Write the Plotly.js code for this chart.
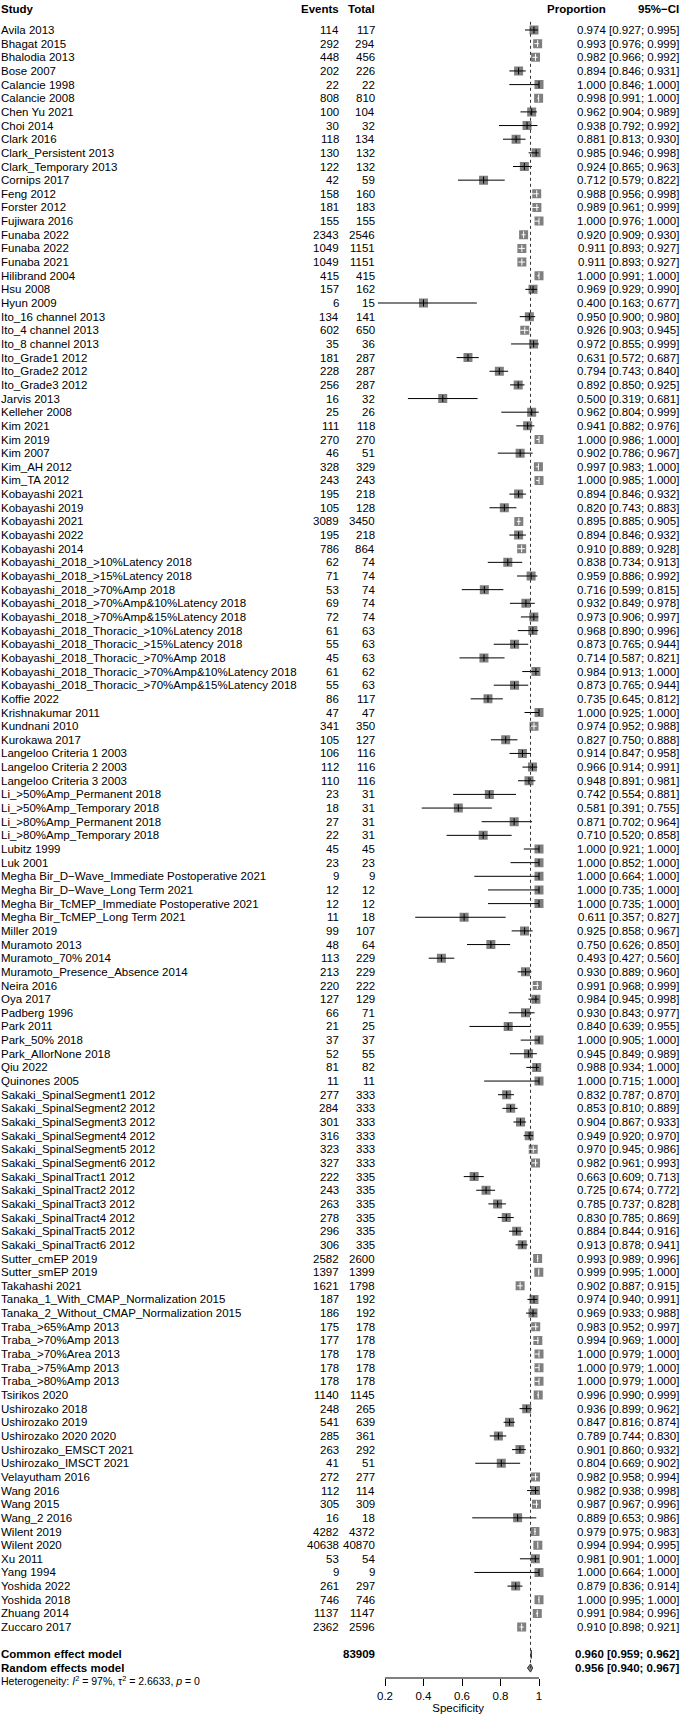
<!DOCTYPE html>
<html>
<head>
<meta charset="utf-8">
<script src="https://cdn.plot.ly/plotly-3.0.1.min.js"></script>
<style>
body { margin: 0; background: #fff; }
#forest { width: 681px; height: 1721px; }
</style>
</head>
<body>
<div id="forest"></div>
<script>
// ---------- Data ----------
var studies = [
    'Avila 2013', 'Bhagat 2015', 'Bhalodia 2013', 'Bose 2007', 'Calancie 1998', 'Calancie 2008',
    'Chen Yu 2021', 'Choi 2014', 'Clark 2016', 'Clark_Persistent 2013', 'Clark_Temporary 2013',
    'Cornips 2017', 'Feng 2012', 'Forster 2012', 'Fujiwara 2016', 'Funaba 2022', 'Funaba 2022',
    'Funaba 2021', 'Hilibrand 2004', 'Hsu 2008', 'Hyun 2009', 'Ito_16 channel 2013',
    'Ito_4 channel 2013', 'Ito_8 channel 2013', 'Ito_Grade1 2012', 'Ito_Grade2 2012',
    'Ito_Grade3 2012', 'Jarvis 2013', 'Kelleher 2008', 'Kim 2021', 'Kim 2019', 'Kim 2007',
    'Kim_AH 2012', 'Kim_TA 2012', 'Kobayashi 2021', 'Kobayashi 2019', 'Kobayashi 2021',
    'Kobayashi 2022', 'Kobayashi 2014', 'Kobayashi_2018_>10%Latency 2018',
    'Kobayashi_2018_>15%Latency 2018', 'Kobayashi_2018_>70%Amp 2018',
    'Kobayashi_2018_>70%Amp&10%Latency 2018', 'Kobayashi_2018_>70%Amp&15%Latency 2018',
    'Kobayashi_2018_Thoracic_>10%Latency 2018', 'Kobayashi_2018_Thoracic_>15%Latency 2018',
    'Kobayashi_2018_Thoracic_>70%Amp 2018', 'Kobayashi_2018_Thoracic_>70%Amp&10%Latency 2018',
    'Kobayashi_2018_Thoracic_>70%Amp&15%Latency 2018', 'Koffie 2022', 'Krishnakumar 2011',
    'Kundnani 2010', 'Kurokawa 2017', 'Langeloo Criteria 1 2003', 'Langeloo Criteria 2 2003',
    'Langeloo Criteria 3 2003', 'Li_>50%Amp_Permanent 2018', 'Li_>50%Amp_Temporary 2018',
    'Li_>80%Amp_Permanent 2018', 'Li_>80%Amp_Temporary 2018', 'Lubitz 1999', 'Luk 2001',
    'Megha Bir_D\u2212Wave_Immediate Postoperative 2021', 'Megha Bir_D\u2212Wave_Long Term 2021',
    'Megha Bir_TcMEP_Immediate Postoperative 2021', 'Megha Bir_TcMEP_Long Term 2021',
    'Miller 2019', 'Muramoto 2013', 'Muramoto_70% 2014', 'Muramoto_Presence_Absence 2014',
    'Neira 2016', 'Oya 2017', 'Padberg 1996', 'Park 2011', 'Park_50% 2018', 'Park_AllorNone 2018',
    'Qiu 2022', 'Quinones 2005', 'Sakaki_SpinalSegment1 2012', 'Sakaki_SpinalSegment2 2012',
    'Sakaki_SpinalSegment3 2012', 'Sakaki_SpinalSegment4 2012', 'Sakaki_SpinalSegment5 2012',
    'Sakaki_SpinalSegment6 2012', 'Sakaki_SpinalTract1 2012', 'Sakaki_SpinalTract2 2012',
    'Sakaki_SpinalTract3 2012', 'Sakaki_SpinalTract4 2012', 'Sakaki_SpinalTract5 2012',
    'Sakaki_SpinalTract6 2012', 'Sutter_cmEP 2019', 'Sutter_smEP 2019', 'Takahashi 2021',
    'Tanaka_1_With_CMAP_Normalization 2015', 'Tanaka_2_Without_CMAP_Normalization 2015',
    'Traba_>65%Amp 2013', 'Traba_>70%Amp 2013', 'Traba_>70%Area 2013', 'Traba_>75%Amp 2013',
    'Traba_>80%Amp 2013', 'Tsirikos 2020', 'Ushirozako 2018', 'Ushirozako 2019',
    'Ushirozako 2020 2020', 'Ushirozako_EMSCT 2021', 'Ushirozako_IMSCT 2021', 'Velayutham 2016',
    'Wang 2016', 'Wang 2015', 'Wang_2 2016', 'Wilent 2019', 'Wilent 2020', 'Xu 2011', 'Yang 1994',
    'Yoshida 2022', 'Yoshida 2018', 'Zhuang 2014', 'Zuccaro 2017'
];
var events = [
    114, 292, 448, 202, 22, 808, 100, 30, 118, 130, 122, 42, 158, 181, 155, 2343, 1049, 1049, 415, 157,
    6, 134, 602, 35, 181, 228, 256, 16, 25, 111, 270, 46, 328, 243, 195, 105, 3089, 195, 786, 62,
    71, 53, 69, 72, 61, 55, 45, 61, 55, 86, 47, 341, 105, 106, 112, 110, 23, 18, 27, 22,
    45, 23, 9, 12, 12, 11, 99, 48, 113, 213, 220, 127, 66, 21, 37, 52, 81, 11, 277, 284,
    301, 316, 323, 327, 222, 243, 263, 278, 296, 306, 2582, 1397, 1621, 187, 186, 175, 177, 178, 178, 178,
    1140, 248, 541, 285, 263, 41, 272, 112, 305, 16, 4282, 40638, 53, 9, 261, 746, 1137, 2362
];
var totals = [
    117, 294, 456, 226, 22, 810, 104, 32, 134, 132, 132, 59, 160, 183, 155, 2546, 1151, 1151, 415, 162,
    15, 141, 650, 36, 287, 287, 287, 32, 26, 118, 270, 51, 329, 243, 218, 128, 3450, 218, 864, 74,
    74, 74, 74, 74, 63, 63, 63, 62, 63, 117, 47, 350, 127, 116, 116, 116, 31, 31, 31, 31,
    45, 23, 9, 12, 12, 18, 107, 64, 229, 229, 222, 129, 71, 25, 37, 55, 82, 11, 333, 333,
    333, 333, 333, 333, 335, 335, 335, 335, 335, 335, 2600, 1399, 1798, 192, 192, 178, 178, 178, 178, 178,
    1145, 265, 639, 361, 292, 51, 277, 114, 309, 18, 4372, 40870, 54, 9, 297, 746, 1147, 2596
];
var proportions = [
    0.974, 0.993, 0.982, 0.894, 1.000, 0.998, 0.962, 0.938, 0.881, 0.985, 0.924, 0.712, 0.988, 0.989, 1.000, 0.920, 0.911, 0.911, 1.000, 0.969,
    0.400, 0.950, 0.926, 0.972, 0.631, 0.794, 0.892, 0.500, 0.962, 0.941, 1.000, 0.902, 0.997, 1.000, 0.894, 0.820, 0.895, 0.894, 0.910, 0.838,
    0.959, 0.716, 0.932, 0.973, 0.968, 0.873, 0.714, 0.984, 0.873, 0.735, 1.000, 0.974, 0.827, 0.914, 0.966, 0.948, 0.742, 0.581, 0.871, 0.710,
    1.000, 1.000, 1.000, 1.000, 1.000, 0.611, 0.925, 0.750, 0.493, 0.930, 0.991, 0.984, 0.930, 0.840, 1.000, 0.945, 0.988, 1.000, 0.832, 0.853,
    0.904, 0.949, 0.970, 0.982, 0.663, 0.725, 0.785, 0.830, 0.884, 0.913, 0.993, 0.999, 0.902, 0.974, 0.969, 0.983, 0.994, 1.000, 1.000, 1.000,
    0.996, 0.936, 0.847, 0.789, 0.901, 0.804, 0.982, 0.982, 0.987, 0.889, 0.979, 0.994, 0.981, 1.000, 0.879, 1.000, 0.991, 0.910
];
var ciLower = [
    0.927, 0.976, 0.966, 0.846, 0.846, 0.991, 0.904, 0.792, 0.813, 0.946, 0.865, 0.579, 0.956, 0.961, 0.976, 0.909, 0.893, 0.893, 0.991, 0.929,
    0.163, 0.900, 0.903, 0.855, 0.572, 0.743, 0.850, 0.319, 0.804, 0.882, 0.986, 0.786, 0.983, 0.985, 0.846, 0.743, 0.885, 0.846, 0.889, 0.734,
    0.886, 0.599, 0.849, 0.906, 0.890, 0.765, 0.587, 0.913, 0.765, 0.645, 0.925, 0.952, 0.750, 0.847, 0.914, 0.891, 0.554, 0.391, 0.702, 0.520,
    0.921, 0.852, 0.664, 0.735, 0.735, 0.357, 0.858, 0.626, 0.427, 0.889, 0.968, 0.945, 0.843, 0.639, 0.905, 0.849, 0.934, 0.715, 0.787, 0.810,
    0.867, 0.920, 0.945, 0.961, 0.609, 0.674, 0.737, 0.785, 0.844, 0.878, 0.989, 0.995, 0.887, 0.940, 0.933, 0.952, 0.969, 0.979, 0.979, 0.979,
    0.990, 0.899, 0.816, 0.744, 0.860, 0.669, 0.958, 0.938, 0.967, 0.653, 0.975, 0.994, 0.901, 0.664, 0.836, 0.995, 0.984, 0.898
];
var ciUpper = [
    0.995, 0.999, 0.992, 0.931, 1.000, 1.000, 0.989, 0.992, 0.930, 0.998, 0.963, 0.822, 0.998, 0.999, 1.000, 0.930, 0.927, 0.927, 1.000, 0.990,
    0.677, 0.980, 0.945, 0.999, 0.687, 0.840, 0.925, 0.681, 0.999, 0.976, 1.000, 0.967, 1.000, 1.000, 0.932, 0.883, 0.905, 0.932, 0.928, 0.913,
    0.992, 0.815, 0.978, 0.997, 0.996, 0.944, 0.821, 1.000, 0.944, 0.812, 1.000, 0.988, 0.888, 0.958, 0.991, 0.981, 0.881, 0.755, 0.964, 0.858,
    1.000, 1.000, 1.000, 1.000, 1.000, 0.827, 0.967, 0.850, 0.560, 0.960, 0.999, 0.998, 0.977, 0.955, 1.000, 0.989, 1.000, 1.000, 0.870, 0.889,
    0.933, 0.970, 0.986, 0.993, 0.713, 0.772, 0.828, 0.869, 0.916, 0.941, 0.996, 1.000, 0.915, 0.991, 0.988, 0.997, 1.000, 1.000, 1.000, 1.000,
    0.999, 0.962, 0.874, 0.830, 0.932, 0.902, 0.994, 0.998, 0.996, 0.986, 0.983, 0.995, 1.000, 1.000, 0.914, 1.000, 0.996, 0.921
];

// pooled estimates: [estimate, lower, upper]
var commonModel = [0.960, 0.959, 0.962];
var randomModel = [0.956, 0.940, 0.967];
var pooledTotal = 83909;
var xTicks = [0.2, 0.4, 0.6, 0.8, 1];
var xTickLabels = ['0.2', '0.4', '0.6', '0.8', '1'];

// ---------- Geometry (pixels) ----------
var W = 681, H = 1721;
var ROW_TOP = 30, ROW_H = 13.65;          // centre of first study row, row pitch
var AXIS_Y = 1678;                         // x axis line
var X0_PX = 385, PX_PER_UNIT = 192.5;      // 0.2 -> 385px
var XRANGE = [0.1, 1.06];
var COL = { study: 1, events: 339, total: 375, prop: 606, ci: 679 };
var FONT = 'Liberation Sans, Arial, Helvetica, sans-serif';
var FS = 11.5;
var SQ = 9;

function pxToPaperX(px) { return px / W; }
function rowToPaperY(row) { return 1 - (ROW_TOP + row * ROW_H) / H; }
function fmt3(v) { return v.toFixed(3); }
function ciText(lo, hi) { return '[' + fmt3(lo) + '; ' + fmt3(hi) + ']'; }

var n = studies.length;
var rows = studies.map((s, i) => i);
var rowCommon = n + 1, rowRandom = n + 2, rowHet = n + 2.95, rowHeader = -1.55;

// ---------- Traces ----------
function ciSegments(filterFn) {
    var xs = [], ys = [];
    for (var i = 0; i < n; i++) {
        if (!filterFn(i)) continue;
        xs.push(ciLower[i], ciUpper[i], null);
        ys.push(i, i, null);
    }
    return { x: xs, y: ys };
}
// CI narrower than the square is drawn in white inside it
function isNarrow(i) { return (ciUpper[i] - ciLower[i]) * PX_PER_UNIT < SQ; }

var squares = {
    x: proportions,
    y: rows,
    type: 'scatter',
    mode: 'markers',
    marker: { symbol: 'square', size: SQ, color: '#7f7f7f', line: { width: 0 } },
    hoverinfo: 'skip'
};
var wideSeg = ciSegments(i => !isNarrow(i));
var narrowSeg = ciSegments(i => isNarrow(i));
var ciWide = {
    x: wideSeg.x, y: wideSeg.y, type: 'scatter', mode: 'lines',
    line: { color: '#000000', width: 1 }, hoverinfo: 'skip'
};
var ciNarrow = {
    x: narrowSeg.x, y: narrowSeg.y, type: 'scatter', mode: 'lines',
    line: { color: '#ffffff', width: 1 }, hoverinfo: 'skip'
};
var estTicks = {
    x: proportions,
    y: rows,
    type: 'scatter',
    mode: 'markers',
    marker: {
        symbol: 'line-ns', size: 5,
        line: { width: 1, color: rows.map(i => isNarrow(i) ? '#ffffff' : '#000000') }
    },
    hoverinfo: 'skip'
};
function diamond(model, row) {
    return {
        x: [model[1], model[0], model[2], model[0], model[1]],
        y: [row, row - 0.3, row, row + 0.3, row],
        type: 'scatter',
        mode: 'lines',
        fill: 'toself',
        fillcolor: '#7f7f7f',
        line: { color: '#333333', width: 1 },
        hoverinfo: 'skip'
    };
}

// ---------- Text columns ----------
var annotations = [];
function addText(text, px, row, anchor, size) {
    annotations.push({
        x: pxToPaperX(px), xref: 'paper', xanchor: anchor,
        y: rowToPaperY(row), yref: 'paper', yanchor: 'middle',
        text: text, showarrow: false, borderpad: 0, borderwidth: 0,
        font: { family: FONT, size: size || FS, color: '#000' }
    });
}
addText('<b>Study</b>', COL.study, rowHeader, 'left');
addText('<b>Events</b>', COL.events, rowHeader, 'right');
addText('<b>Total</b>', COL.total, rowHeader, 'right');
addText('<b>Proportion</b>', COL.prop, rowHeader, 'right');
addText('<b>95%\u2212CI</b>', COL.ci, rowHeader, 'right');
for (var i = 0; i < n; i++) {
    addText(studies[i], COL.study, i, 'left');
    addText(String(events[i]), COL.events, i, 'right');
    addText(String(totals[i]), COL.total, i, 'right');
    addText(fmt3(proportions[i]), COL.prop, i, 'right');
    addText(ciText(ciLower[i], ciUpper[i]), COL.ci, i, 'right');
}
addText('<b>Common effect model</b>', COL.study, rowCommon, 'left');
addText('<b>' + pooledTotal + '</b>', COL.total, rowCommon, 'right');
addText('<b>' + fmt3(commonModel[0]) + ' ' + ciText(commonModel[1], commonModel[2]) + '</b>', COL.ci, rowCommon, 'right');
addText('<b>Random effects model</b>', COL.study, rowRandom, 'left');
addText('<b>' + fmt3(randomModel[0]) + ' ' + ciText(randomModel[1], randomModel[2]) + '</b>', COL.ci, rowRandom, 'right');
addText('Heterogeneity: <i>I</i><sup>2</sup> = 97%, \u03c4<sup>2</sup> = 2.6633, <i>p</i> = 0',
    COL.study, rowHet, 'left', 10.5);

// ---------- Layout ----------
var yDomainBottom = (H - AXIS_Y) / H;
var yRange = [(AXIS_Y - ROW_TOP) / ROW_H, -ROW_TOP / ROW_H];
var xDomain = [
    (X0_PX + (XRANGE[0] - 0.2) * PX_PER_UNIT) / W,
    (X0_PX + (XRANGE[1] - 0.2) * PX_PER_UNIT) / W
];

var layout = {
    width: W,
    height: H,
    margin: { l: 0, r: 0, t: 0, b: 0 },
    paper_bgcolor: '#ffffff',
    plot_bgcolor: '#ffffff',
    showlegend: false,
    font: { family: FONT, size: FS, color: '#000' },
    xaxis: {
        domain: xDomain,
        range: XRANGE,
        showgrid: false,
        zeroline: false,
        showline: false,
        ticks: 'outside',
        ticklen: 7,
        tickwidth: 1,
        tickcolor: '#000',
        tickvals: xTicks,
        ticktext: xTickLabels,
        tickfont: { family: FONT, size: FS },
        title: { text: 'Specificity', font: { family: FONT, size: FS }, standoff: 2 },
        automargin: false,
        fixedrange: true
    },
    yaxis: {
        domain: [yDomainBottom, 1],
        range: yRange,
        visible: false,
        fixedrange: true
    },
    shapes: [
        // x axis line only between first and last tick
        {
            type: 'line', xref: 'x', yref: 'paper',
            x0: xTicks[0], x1: xTicks[xTicks.length - 1],
            y0: yDomainBottom, y1: yDomainBottom,
            line: { color: '#000', width: 1 }
        },
        // random effects reference line
        {
            type: 'line', xref: 'x', yref: 'y',
            x0: randomModel[0], x1: randomModel[0],
            y0: -0.6, y1: rowRandom,
            line: { color: '#333', width: 1, dash: 'dot' }
        }
    ],
    annotations: annotations
};

Plotly.newPlot('forest',
    [squares, ciWide, ciNarrow, estTicks, diamond(commonModel, rowCommon), diamond(randomModel, rowRandom)],
    layout,
    { staticPlot: true, displayModeBar: false });
</script>
</body>
</html>
